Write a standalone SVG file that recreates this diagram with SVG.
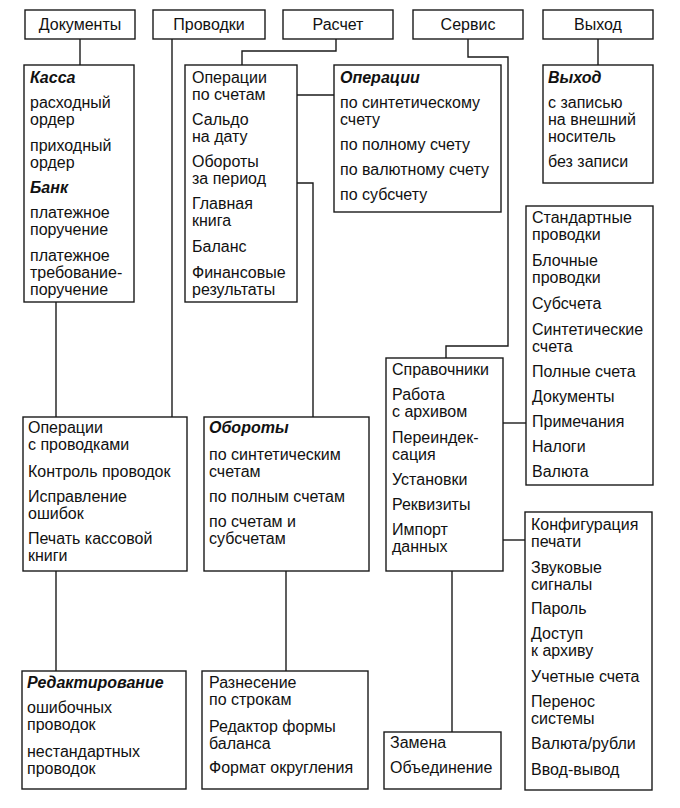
<svg xmlns="http://www.w3.org/2000/svg" width="680" height="808" viewBox="0 0 680 808">
<style>
.b{fill:#fff;stroke:#1a1a1a;stroke-width:1.4}
.c{fill:none;stroke:#1a1a1a;stroke-width:1.4}
text{font-family:"Liberation Sans",Arial,sans-serif;font-size:16px;fill:#111}
.m{text-anchor:middle}
.h{font-weight:bold;font-style:italic}
</style>
<rect width="680" height="808" fill="#fff"/>
<g id="connectors">
<path class="c" d="M80,39V65"/>
<path class="c" d="M172,39V417"/>
<path class="c" d="M336,39V51H242V65"/>
<path class="c" d="M468,39V57H508V346H446V358"/>
<path class="c" d="M598,39V65"/>
<path class="c" d="M297,95H334"/>
<path class="c" d="M297,183H313V417"/>
<path class="c" d="M56,302V417"/>
<path class="c" d="M56,571V671"/>
<path class="c" d="M286,571V671"/>
<path class="c" d="M503,423H526"/>
<path class="c" d="M503,540H525"/>
<path class="c" d="M452,571V732"/>
</g>
<g id="menu-dokumenty"><rect class="b" x="25" y="10" width="110" height="29"/><text class="m" x="80" y="30">Документы</text></g>
<g id="menu-provodki"><rect class="b" x="153" y="10" width="112" height="29"/><text class="m" x="209" y="30">Проводки</text></g>
<g id="menu-raschet"><rect class="b" x="283" y="10" width="110" height="29"/><text class="m" x="338" y="30">Расчет</text></g>
<g id="menu-servis"><rect class="b" x="413" y="10" width="110" height="29"/><text class="m" x="468" y="30">Сервис</text></g>
<g id="menu-vyhod"><rect class="b" x="543" y="10" width="110" height="29"/><text class="m" x="598" y="30">Выход</text></g>

<g id="kassa"><rect class="b" x="24" y="65" width="110" height="237"/>
<text x="30" y="83" class="h">Касса</text>
<text x="30" y="108">расходный</text><text x="30" y="125">ордер</text>
<text x="30" y="151">приходный</text><text x="30" y="168">ордер</text>
<text x="30" y="193" class="h">Банк</text>
<text x="30" y="218">платежное</text><text x="30" y="235">поручение</text>
<text x="30" y="261">платежное</text><text x="30" y="278">требование-</text><text x="30" y="295">поручение</text>
</g>

<g id="operacii-po-schetam"><rect class="b" x="185" y="65" width="112" height="237"/>
<text x="192" y="83">Операции</text><text x="192" y="100">по счетам</text>
<text x="192" y="125">Сальдо</text><text x="192" y="142">на дату</text>
<text x="192" y="167">Обороты</text><text x="192" y="184">за период</text>
<text x="192" y="209">Главная</text><text x="192" y="226">книга</text>
<text x="192" y="252">Баланс</text>
<text x="192" y="278">Финансовые</text><text x="192" y="295">результаты</text>
</g>

<g id="operacii"><rect class="b" x="334" y="65" width="167" height="147"/>
<text x="340" y="83" class="h">Операции</text>
<text x="340" y="108">по синтетическому</text><text x="340" y="125">счету</text>
<text x="340" y="150">по полному счету</text>
<text x="340" y="175">по валютному счету</text>
<text x="340" y="200">по субсчету</text>
</g>

<g id="vyhod"><rect class="b" x="543" y="65" width="110" height="118"/>
<text x="548" y="83" class="h">Выход</text>
<text x="548" y="108">с записью</text><text x="548" y="125">на внешний</text><text x="548" y="142">носитель</text>
<text x="548" y="167">без записи</text>
</g>

<g id="standartnye"><rect class="b" x="526" y="206" width="127" height="279"/>
<text x="532" y="223">Стандартные</text><text x="532" y="240">проводки</text>
<text x="532" y="266">Блочные</text><text x="532" y="283">проводки</text>
<text x="532" y="309">Субсчета</text>
<text x="532" y="335">Синтетические</text><text x="532" y="352">счета</text>
<text x="532" y="377">Полные счета</text>
<text x="532" y="402">Документы</text>
<text x="532" y="427">Примечания</text>
<text x="532" y="452">Налоги</text>
<text x="532" y="477">Валюта</text>
</g>

<g id="spravochniki"><rect class="b" x="386" y="358" width="117" height="213"/>
<text x="392" y="375">Справочники</text>
<text x="392" y="400">Работа</text><text x="392" y="417">с архивом</text>
<text x="392" y="443">Переиндек-</text><text x="392" y="460">сация</text>
<text x="392" y="485">Установки</text>
<text x="392" y="510">Реквизиты</text>
<text x="392" y="535">Импорт</text><text x="392" y="552">данных</text>
</g>

<g id="konfiguraciya"><rect class="b" x="525" y="512" width="127" height="278"/>
<text x="531" y="530">Конфигурация</text><text x="531" y="547">печати</text>
<text x="531" y="573">Звуковые</text><text x="531" y="590">сигналы</text>
<text x="531" y="614">Пароль</text>
<text x="531" y="639">Доступ</text><text x="531" y="656">к архиву</text>
<text x="531" y="682">Учетные счета</text>
<text x="531" y="707">Перенос</text><text x="531" y="724">системы</text>
<text x="531" y="749">Валюта/рубли</text>
<text x="531" y="775">Ввод-вывод</text>
</g>

<g id="operacii-s-provodkami"><rect class="b" x="23" y="417" width="164" height="154"/>
<text x="28" y="433">Операции</text><text x="28" y="450">с проводками</text>
<text x="28" y="477">Контроль проводок</text>
<text x="28" y="502">Исправление</text><text x="28" y="519">ошибок</text>
<text x="28" y="544">Печать кассовой</text><text x="28" y="561">книги</text>
</g>

<g id="oboroty"><rect class="b" x="204" y="417" width="165" height="154"/>
<text x="209" y="433" class="h">Обороты</text>
<text x="209" y="460">по синтетическим</text><text x="209" y="477">счетам</text>
<text x="209" y="502">по полным счетам</text>
<text x="209" y="527">по счетам и</text><text x="209" y="544">субсчетам</text>
</g>

<g id="redaktirovanie"><rect class="b" x="22" y="671" width="164" height="118"/>
<text x="27" y="688" class="h">Редактирование</text>
<text x="27" y="713">ошибочных</text><text x="27" y="730">проводок</text>
<text x="27" y="757">нестандартных</text><text x="27" y="774">проводок</text>
</g>

<g id="raznesenie"><rect class="b" x="202" y="671" width="166" height="118"/>
<text x="209" y="688">Разнесение</text><text x="209" y="705">по строкам</text>
<text x="209" y="732">Редактор формы</text><text x="209" y="749">баланса</text>
<text x="209" y="773">Формат округления</text>
</g>

<g id="zamena"><rect class="b" x="384" y="732" width="117" height="57"/>
<text x="390" y="748">Замена</text>
<text x="390" y="773">Объединение</text>
</g>
</svg>
